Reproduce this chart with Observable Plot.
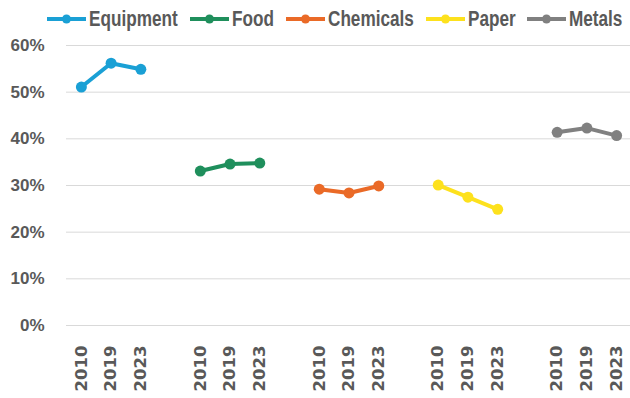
<!DOCTYPE html>
<html><head><meta charset="utf-8">
<script src="https://cdn.jsdelivr.net/npm/d3@7"></script>
<script src="https://cdn.jsdelivr.net/npm/@observablehq/plot@0.6"></script>
<style>
body{margin:0;background:#fff;width:630px;height:398px;overflow:hidden;}
#legend{height:37px;display:flex;align-items:center;padding-left:47px;box-sizing:border-box;
  font-family:"Liberation Sans",Arial,sans-serif;font-weight:bold;font-size:22px;color:#595959;white-space:nowrap;}
#legend .item{display:flex;align-items:center;margin-right:12px;}
#legend svg{margin-right:3px;flex:none;}
#legend .outer{display:inline-block;overflow:visible;}
#legend .inner{display:inline-block;transform:scaleX(0.78);transform-origin:0 50%;}
#chart svg{display:block;}
#chart g[aria-label="y-axis tick label"] text{font-family:"Liberation Sans",Arial,sans-serif;font-weight:bold;font-size:17px;}
#chart g[aria-label="x-axis tick label"] text{font-family:"DejaVu Sans",sans-serif;font-weight:bold;font-size:16.5px;}
</style></head>
<body><div id="legend"></div><div id="chart"></div>
<script>
const sectors = ["Equipment","Food","Chemicals","Paper","Metals"];
const years = ["2010","2019","2023"];
const colors = ["#1aa0d5","#1f8f5c","#ea6a27","#fde11d","#808080"];
const equipment = [51.1,56.2,54.9];
const food = [33.1,34.6,34.8];
const chemicals = [29.2,28.4,29.9];
const paper = [30.1,27.5,24.9];
const metals = [41.4,42.3,40.7];
const yTicks = [0,10,20,30,40,50,60];

const series = [equipment, food, chemicals, paper, metals];
const slotsPerGroup = years.length + 1; // one empty slot between groups
const data = [];
const tickPos = [];
sectors.forEach((s, i) => {
  years.forEach((y, j) => {
    const pos = i * slotsPerGroup + j;
    tickPos.push(pos);
    data.push({sector: s, year: y, pos, value: series[i][j]});
  });
});
const nSlots = sectors.length * slotsPerGroup - 1;

// legend
const legend = document.getElementById("legend");
sectors.forEach((s, i) => {
  const item = document.createElement("div");
  item.className = "item";
  item.innerHTML = `<svg width="39" height="12"><line x1="0" y1="6" x2="39" y2="6" stroke="${colors[i]}" stroke-width="4"/><circle cx="19.5" cy="6" r="4.5" fill="${colors[i]}"/></svg><span class="outer"><span class="inner">${s}</span></span>`;
  legend.appendChild(item);
});
legend.querySelectorAll(".outer").forEach(o => {
  const inner = o.querySelector(".inner");
  o.style.width = (inner.offsetWidth * 0.78) + "px";
});

const chart = Plot.plot({
  width: 630,
  height: 361,
  marginTop: 8,
  marginBottom: 73,
  marginLeft: 66,
  marginRight: 0,
  style: {color: "#595959", background: "#fff"},
  x: {type: "linear", domain: [-0.5, nSlots - 0.5], range: [66, 631], axis: null, label: null},
  y: {domain: [0, 60], axis: null, label: null},
  color: {domain: sectors, range: colors},
  marks: [
    Plot.gridY({ticks: yTicks, stroke: "#d9d9d9", strokeOpacity: 1, strokeWidth: 1}),
    Plot.axisY({ticks: yTicks, tickFormat: d => d + "%", tickSize: 0, tickPadding: 22, label: null}),
    Plot.axisX({ticks: tickPos, tickFormat: p => years[p % slotsPerGroup], tickRotate: -90, tickSize: 0, tickPadding: 20, label: null}),
    Plot.line(data, {x: "pos", y: "value", z: "sector", stroke: "sector", strokeWidth: 4}),
    Plot.dot(data, {x: "pos", y: "value", fill: "sector", r: 5.5})
  ]
});
document.getElementById("chart").appendChild(chart);
</script>
</body></html>
